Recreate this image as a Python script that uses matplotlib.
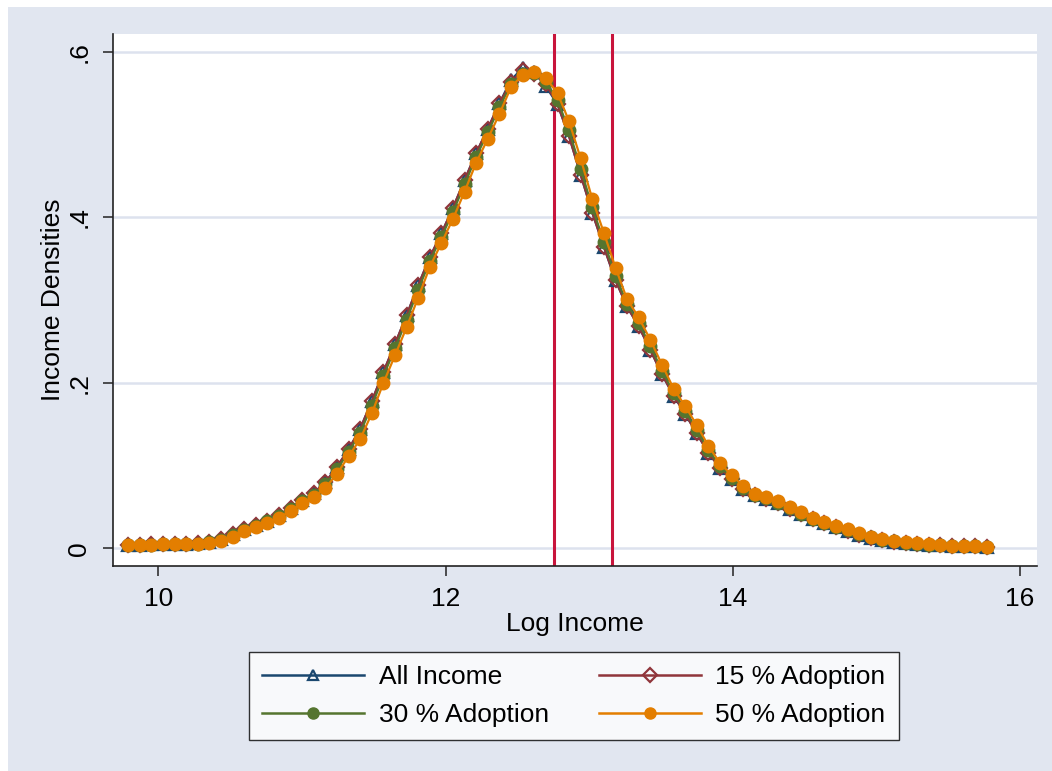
import matplotlib
matplotlib.use("Agg")
import matplotlib.pyplot as plt
from matplotlib.lines import Line2D
from matplotlib.patches import Rectangle

plt.rcParams['font.family'] = ['Liberation Sans', 'DejaVu Sans']

# evaluation grid (log income)
log_income = [
    9.790, 9.871, 9.952, 10.032, 10.113, 10.194, 10.275, 10.356, 10.436, 10.517,
    10.598, 10.679, 10.760, 10.840, 10.921, 11.002, 11.083, 11.164, 11.244, 11.325,
    11.406, 11.487, 11.568, 11.648, 11.729, 11.810, 11.891, 11.972, 12.052, 12.133,
    12.214, 12.295, 12.376, 12.456, 12.537, 12.618, 12.699, 12.780, 12.860, 12.941,
    13.022, 13.103, 13.184, 13.264, 13.345, 13.426, 13.507, 13.588, 13.668, 13.749,
    13.830, 13.911, 13.992, 14.072, 14.153, 14.234, 14.315, 14.396, 14.476, 14.557,
    14.638, 14.719, 14.800, 14.880, 14.961, 15.042, 15.123, 15.204, 15.284, 15.365,
    15.446, 15.527, 15.608, 15.688, 15.769,
]

all_income = [
    .004, .0042, .0047, .0052, .0055, .0055, .0059, .0074, .0109, .0168,
    .023, .028, .0334, .0402, .049, .0578, .0664, .0798, .0984, .1194,
    .1444, .1778, .2132, .2466, .2814, .3178, .3516, .3806, .4112, .445,
    .4776, .507, .5378, .566, .580, .575, .558, .5364, .498, .4514,
    .4056, .3642, .3238, .2922, .2682, .240, .2104, .1846, .1628, .139,
    .1156, .0972, .0833, .0718, .0644, .060, .0542, .0474, .041, .035,
    .030, .0254, .021, .0164, .0128, .0101, .0082, .0067, .0055, .0045,
    .0036, .0029, .0028, .0025, .002,
]

adopt_15 = [
    .004, .0042, .0047, .0052, .0055, .0055, .0059, .0074, .0109, .0168,
    .023, .028, .0334, .0402, .049, .0578, .0664, .0798, .0984, .1194,
    .1444, .1778, .2132, .2466, .2814, .3178, .3516, .3806, .4112, .445,
    .4776, .507, .5378, .563, .578, .5728, .5608, .5364, .498, .4514,
    .4056, .3642, .3238, .2922, .2682, .240, .2104, .1846, .1628, .139,
    .1156, .0972, .0833, .0718, .0644, .060, .0542, .0474, .041, .035,
    .030, .0254, .021, .0164, .0128, .0101, .0082, .0067, .0055, .0045,
    .0036, .0029, .0028, .0025, .002,
]

adopt_30 = [
    .004, .0041, .0046, .0051, .0055, .0055, .0058, .0071, .0101, .0158,
    .0223, .0273, .0325, .039, .0475, .0568, .0648, .0773, .0953, .1163,
    .1398, .1723, .2083, .2415, .276, .3123, .3473, .3763, .4063, .4398,
    .4733, .5025, .533, .5608, .573, .574, .5635, .5415, .5048, .4588,
    .4118, .3705, .3295, .2955, .2723, .2445, .2148, .1878, .1663, .1428,
    .1188, .0994, .0853, .0732, .065, .0608, .0553, .0484, .0419, .0358,
    .0308, .026, .0218, .0172, .0133, .0105, .0084, .0069, .0057, .0046,
    .0038, .003, .0028, .0026, .002,
]

adopt_50 = [
    .004, .004, .0045, .005, .0055, .0055, .0055, .0065, .0088, .014,
    .021, .026, .031, .037, .045, .055, .062, .073, .090, .111,
    .132, .163, .200, .233, .267, .303, .340, .369, .398, .431,
    .466, .495, .525, .557, .572, .576, .568, .550, .516, .471,
    .422, .381, .339, .301, .279, .252, .222, .193, .172, .149,
    .124, .103, .0885, .0756, .066, .062, .057, .050, .0435, .037,
    .032, .027, .023, .018, .014, .011, .0088, .0072, .006, .0048,
    .004, .003, .0028, .0028, .002,
]

cutoffs = [12.757, 13.161]

navy = '#1A476F'
maroon = '#90353B'
green = '#55752F'
orange = '#E37E00'
bg = '#E1E6F0'

fig = plt.figure(figsize=(10.52, 7.71), dpi=100)
fig.patch.set_facecolor('white')
fig.patches.append(Rectangle((8 / 1052, 0), 1, 1 - 7 / 771, transform=fig.transFigure,
                             facecolor=bg, edgecolor='none', zorder=-10))

ax = fig.add_axes([112.7 / 1052, 1 - 565.7 / 771, (1037.3 - 112.7) / 1052, (565.7 - 34.3) / 771])
ax.set_facecolor('white')

for xv in cutoffs:
    ax.axvline(xv, color='#C8143C', lw=2.2, zorder=1.5)

ax.plot(log_income, all_income, color=navy, lw=1.6, marker='^', ms=8,
        mfc='none', mec=navy, mew=1.6, zorder=2)
ax.plot(log_income, adopt_15, color=maroon, lw=1.6, marker='D', ms=7.5,
        mfc='none', mec=maroon, mew=1.6, zorder=2.1)
ax.plot(log_income, adopt_30, color=green, lw=1.6, marker='o', ms=9,
        mfc=green, mec=green, zorder=2.2)
ax.plot(log_income, adopt_50, color=orange, lw=1.6, marker='o', ms=9,
        mfc=orange, mec=orange, zorder=2.3)

ax.set_xlim(9.6825, 16.121)
ax.set_ylim(-0.021, 0.621)
ax.set_xticks([10, 12, 14, 16])
ax.set_yticks([0, .2, .4, .6])
ax.set_yticklabels(['0', '.2', '.4', '.6'], rotation=90, va='center')
ax.grid(axis='y', color='#DDE2EE', lw=1.8)
ax.set_axisbelow(True)
for s in ['top', 'right']:
    ax.spines[s].set_visible(False)
for s in ['left', 'bottom']:
    ax.spines[s].set_color('#222222')
    ax.spines[s].set_linewidth(1.2)
ax.tick_params(axis='both', length=7, width=1.1, color='#222222', labelsize=19, pad=8.5)

ax.set_xlabel('Log Income', fontsize=19)
ax.set_ylabel('Income Densities', fontsize=19)
ax.xaxis.set_label_coords(0.5, -0.087)
ax.yaxis.set_label_coords(-0.0516, 0.5)

# legend laid out row-wise like the original: All / 15 % on top, 30 / 50 % below
handles = [
    Line2D([], [], color=navy, lw=1.8, marker='^', ms=7.5, mfc='none', mec=navy, mew=1.6),
    Line2D([], [], color=green, lw=1.8, marker='o', ms=8, mfc=green, mec=green),
    Line2D([], [], color=maroon, lw=1.8, marker='D', ms=7.5, mfc='none', mec=maroon, mew=1.6),
    Line2D([], [], color=orange, lw=1.8, marker='o', ms=8, mfc=orange, mec=orange),
]
labels = ['All Income', '30 % Adoption', '15 % Adoption', '50 % Adoption']
leg = fig.legend(handles, labels, loc='center', bbox_to_anchor=(0.5456, 0.0976),
                 ncol=2, fontsize=19, handlelength=3.86, handletextpad=0.55,
                 columnspacing=1.9, labelspacing=0.53, borderpad=0.5,
                 frameon=True, fancybox=False)
leg.get_frame().set_edgecolor('black')
leg.get_frame().set_linewidth(1.0)
leg.get_frame().set_facecolor('white')

fig.savefig('out.png', dpi=100, facecolor=fig.get_facecolor())
